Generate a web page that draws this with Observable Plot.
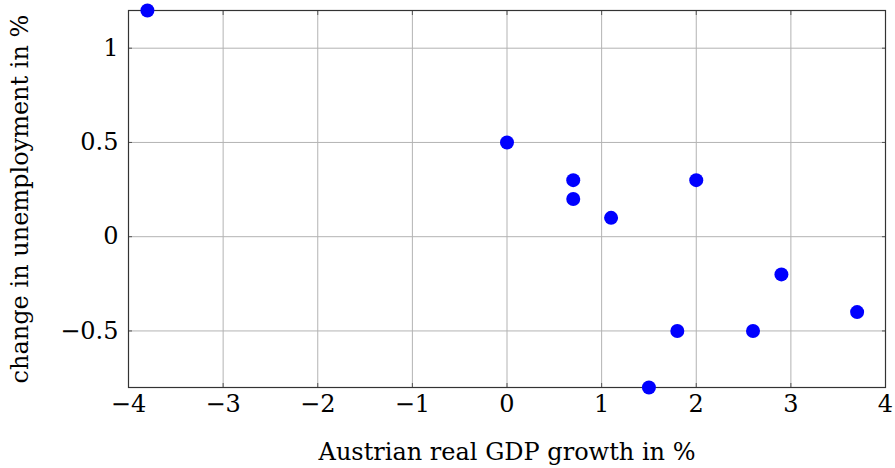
<!DOCTYPE html>
<html>
<head>
<meta charset="utf-8">
<script src="https://cdn.jsdelivr.net/npm/d3@7"></script>
<script src="https://cdn.jsdelivr.net/npm/@observablehq/plot@0.6"></script>
<style>
  html, body { margin: 0; padding: 0; background: #fff; }
  #chart svg { display: block; }
</style>
</head>
<body>
<div id="chart"></div>
<script>
const gdpGrowth = [-3.8, 0, 0.7, 0.7, 1.1, 2, 2.9, 3.7, 1.8, 2.6, 1.5];
const unemploymentChange = [1.2, 0.5, 0.3, 0.2, 0.1, 0.3, -0.2, -0.4, -0.5, -0.5, -0.8];
const xTicks = [-4, -3, -2, -1, 0, 1, 2, 3, 4];
const yTicks = [-0.5, 0, 0.5, 1];
const xLabel = "Austrian real GDP growth in %";
const yLabel = "change in unemployment in %";

const data = gdpGrowth.map((g, i) => ({x: g, y: unemploymentChange[i]}));
const fmt = d => (d < 0 ? "\u2212" : "") + Math.abs(d);
const font = "'DejaVu Serif', serif";

const chart = Plot.plot({
  width: 895,
  height: 468,
  marginLeft: 128,
  marginRight: 10,
  marginTop: 10,
  marginBottom: 81,
  style: {fontFamily: font, fontSize: "24px", background: "#fff", color: "#000", overflow: "visible"},
  x: {domain: [-4, 4], ticks: xTicks},
  y: {domain: [-0.8, 1.2], ticks: yTicks},
  marks: [
    Plot.gridX(xTicks, {stroke: "#b3b3b3", strokeOpacity: 1}),
    Plot.gridY(yTicks, {stroke: "#b3b3b3", strokeOpacity: 1}),
    Plot.axisX(xTicks, {tickSize: -4, tickPadding: 11, tickFormat: fmt, stroke: "#555", fontSize: 24, label: xLabel, labelAnchor: "center", labelArrow: "none", labelOffset: 72}),
    Plot.axisX(xTicks, {anchor: "top", tickSize: -4, text: null, label: null, stroke: "#555"}),
    Plot.axisY(yTicks, {tickSize: -4, tickPadding: 14, tickFormat: fmt, stroke: "#555", fontSize: 24, label: yLabel, labelAnchor: "center", labelArrow: "none", labelOffset: 118}),
    Plot.axisY(yTicks, {anchor: "right", tickSize: -4, text: null, label: null, stroke: "#555"}),
    Plot.frame({stroke: "#333", strokeWidth: 1.2}),
    Plot.dot(data, {x: "x", y: "y", r: 7, fill: "#0000ff", stroke: "none", clip: false})
  ]
});
document.getElementById("chart").appendChild(chart);
</script>
</body>
</html>
